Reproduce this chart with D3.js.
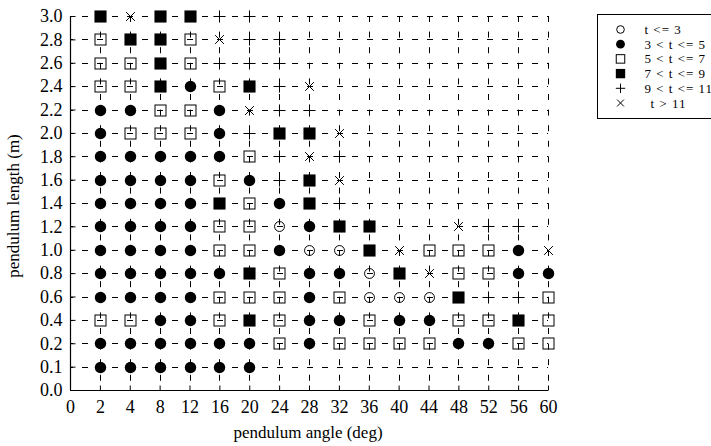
<!DOCTYPE html>
<html>
<head>
<meta charset="utf-8">
<script src="https://cdn.jsdelivr.net/npm/d3@7"></script>
<style>
  html, body { margin: 0; padding: 0; background: #fff; }
  svg { display: block; }
  svg text { font-family: "Liberation Serif", "Times New Roman", serif; font-weight: normal; fill: #000; }
</style>
</head>
<body>
<svg id="chart" width="711" height="446"></svg>
<script>
// Axis categories (the axes are categorical, not linear)
const angleTicks = ["0", "2", "4", "8", "12", "16", "20", "24", "28", "32", "36", "40", "44", "48", "52", "56", "60"];
const lengthTicks = ["0.0", "0.1", "0.2", "0.4", "0.6", "0.8", "1.0", "1.2", "1.4", "1.6", "1.8", "2.0", "2.2", "2.4", "2.6", "2.8", "3.0"];

// Swing-time classes
const classLabels = ["t <= 3", "3 < t <= 5", "5 < t <= 7", "7 < t <= 9", "9 < t <= 11", "t > 11"];
const classSymbols = ["openCircle", "filledCircle", "openSquare", "filledSquare", "plus", "cross"];

// Angles at which runs were made (columns of each row below)
const runAngles = ["2", "4", "8", "12", "16", "20", "24", "28", "32", "36", "40", "44", "48", "52", "56", "60"];

// Class index per run angle, one row per pendulum length; null = no run
const N = null;
const len01 = [1, 1, 1, 1, 1, 1, N, N, N, N, N, N, N, N, N, N];
const len02 = [1, 1, 1, 1, 1, 1, 2, 1, 2, 2, 2, 2, 1, 1, 2, 2];
const len04 = [2, 2, 1, 1, 2, 3, 2, 1, 1, 2, 1, 1, 2, 2, 3, 2];
const len06 = [1, 1, 1, 1, 2, 2, 2, 1, 2, 0, 0, 0, 3, 4, 4, 2];
const len08 = [1, 1, 1, 1, 1, 3, 2, 1, 1, 0, 3, 5, 2, 2, 1, 1];
const len10 = [1, 1, 1, 1, 2, 2, 1, 0, 0, 3, 5, 2, 2, 2, 1, 5];
const len12 = [1, 1, 1, 1, 2, 2, 0, 1, 3, 3, N, N, 5, 4, 4, N];
const len14 = [1, 1, 1, 1, 3, 2, 1, 3, 4, N, N, N, N, N, N, N];
const len16 = [1, 1, 1, 1, 2, 1, 4, 3, 5, N, N, N, N, N, N, N];
const len18 = [1, 1, 1, 1, 1, 2, 4, 5, 4, N, N, N, N, N, N, N];
const len20 = [1, 2, 2, 2, 1, 4, 3, 3, 5, N, N, N, N, N, N, N];
const len22 = [1, 1, 2, 2, 1, 5, 4, 4, N, N, N, N, N, N, N, N];
const len24 = [2, 2, 3, 1, 2, 3, 4, 5, N, N, N, N, N, N, N, N];
const len26 = [2, 2, 3, 2, 4, 4, 4, N, N, N, N, N, N, N, N, N];
const len28 = [2, 3, 3, 2, 5, 4, 4, N, N, N, N, N, N, N, N, N];
const len30 = [3, 5, 3, 3, 4, 4, N, N, N, N, N, N, N, N, N, N];

const rows = [
  ["0.1", len01], ["0.2", len02], ["0.4", len04], ["0.6", len06],
  ["0.8", len08], ["1.0", len10], ["1.2", len12], ["1.4", len14],
  ["1.6", len16], ["1.8", len18], ["2.0", len20], ["2.2", len22],
  ["2.4", len24], ["2.6", len26], ["2.8", len28], ["3.0", len30]
];

const points = [];
rows.forEach(([len, classes]) => {
  classes.forEach((c, i) => {
    if (c !== null) points.push({ angle: runAngles[i], length: len, cls: c });
  });
});

const svg = d3.select("#chart");
const plotLeft = 70, plotRight = 548, plotTop = 16, plotBottom = 390;
const serif = "'Liberation Serif', 'Times New Roman', serif";

const x = d3.scalePoint().domain(angleTicks).range([plotLeft, plotRight]);
const y = d3.scalePoint().domain(lengthTicks).range([plotBottom, plotTop]);

// Dashed grid
const grid = svg.append("g").attr("stroke", "#000").attr("stroke-width", 1);
grid.selectAll("line.h")
  .data(lengthTicks.slice(1))
  .join("line")
  .attr("x1", plotLeft).attr("x2", plotRight)
  .attr("y1", d => Math.round(y(d)) + 0.5).attr("y2", d => Math.round(y(d)) + 0.5)
  .attr("stroke-dasharray", "6,9")
  .attr("stroke-dashoffset", 3);
grid.selectAll("line.v")
  .data(angleTicks.slice(1))
  .join("line")
  .attr("x1", d => Math.round(x(d)) + 0.5).attr("x2", d => Math.round(x(d)) + 0.5)
  .attr("y1", plotTop).attr("y2", plotBottom)
  .attr("stroke-dasharray", "6,9.6")
  .attr("stroke-dashoffset", 0);

// Axes with inward ticks
const xAxis = d3.axisBottom(x).tickSize(-5).tickPadding(10);
const yAxis = d3.axisLeft(y).tickSize(-5).tickPadding(8);

const gx = svg.append("g").attr("transform", `translate(0,${plotBottom + 0.5})`).call(xAxis);
const gy = svg.append("g").attr("transform", `translate(${plotLeft + 0.5},0)`).call(yAxis);
[gx, gy].forEach(g => {
  g.attr("font-family", serif).attr("font-size", 18);
  g.select(".domain").attr("stroke", "#000").attr("stroke-width", 1.2);
  g.selectAll(".tick line").attr("stroke", "#000");
  g.selectAll(".tick text")
    .style("font-family", serif)
    .style("font-size", "18px").attr("fill", "#000");
});
gx.select(".domain").attr("d", `M${plotLeft},0H${plotRight}`);
gy.select(".domain").attr("d", `M0,${plotTop}V${plotBottom}`);

// Axis titles
svg.append("text")
  .attr("x", 308).attr("y", 438)
  .attr("text-anchor", "middle")
  .style("font-family", serif).style("font-size", "17px")
  .text("pendulum angle (deg)");
svg.append("text")
  .attr("transform", `translate(19,206) rotate(-90)`)
  .attr("text-anchor", "middle")
  .style("font-family", serif).style("font-size", "17px")
  .text("pendulum length (m)");

// Marker drawing
function drawSymbol(g, kind, s) {
  g.attr("stroke", "#000");
  if (kind === "openCircle") {
    g.append("circle").attr("r", s * 0.45).attr("fill", "none").attr("stroke-width", 1);
  } else if (kind === "filledCircle") {
    g.append("circle").attr("r", s * 0.52).attr("fill", "#000").attr("stroke", "none");
  } else if (kind === "openSquare") {
    const h = s * 0.5;
    g.append("rect").attr("x", -h).attr("y", -h).attr("width", 2 * h).attr("height", 2 * h)
      .attr("fill", "none").attr("stroke-width", 1);
  } else if (kind === "filledSquare") {
    const h = s * 0.55;
    g.append("rect").attr("x", -h).attr("y", -h).attr("width", 2 * h).attr("height", 2 * h)
      .attr("fill", "#000").attr("stroke", "none");
  } else if (kind === "plus") {
    const h = s * 0.55;
    g.append("path").attr("d", `M${-h},0H${h}M0,${-h}V${h}`).attr("fill", "none").attr("stroke-width", 1);
  } else if (kind === "cross") {
    const h = s * 0.4;
    g.append("path").attr("d", `M${-h},${-h}L${h},${h}M${-h},${h}L${h},${-h}`)
      .attr("fill", "none").attr("stroke-width", 1);
  }
}

const marks = svg.append("g");
marks.selectAll("g.pt")
  .data(points)
  .join("g")
  .attr("class", "pt")
  .attr("transform", d => `translate(${Math.round(x(d.angle)) + 0.5},${Math.round(y(d.length)) + 0.5})`)
  .each(function (d) { drawSymbol(d3.select(this), classSymbols[d.cls], 11); });

// Legend
const legend = svg.append("g").attr("transform", "translate(597.5,14.5)");
legend.append("rect").attr("width", 130).attr("height", 104)
  .attr("fill", "#fff").attr("stroke", "#000").attr("stroke-width", 1);
const items = legend.selectAll("g.item")
  .data(classLabels)
  .join("g")
  .attr("class", "item")
  .attr("transform", (d, i) => `translate(23,${15 + i * 14.7})`);
items.each(function (d, i) { drawSymbol(d3.select(this), classSymbols[i], 8.5); });
items.append("text")
  .attr("x", 24).attr("dx", (d, i) => i === 5 ? 6 : 0).attr("y", 4.5)
  .attr("stroke", "none")
  .style("font-family", serif).style("font-size", "13px")
  .style("letter-spacing", "1px")
  .text(d => d);
</script>
</body>
</html>
